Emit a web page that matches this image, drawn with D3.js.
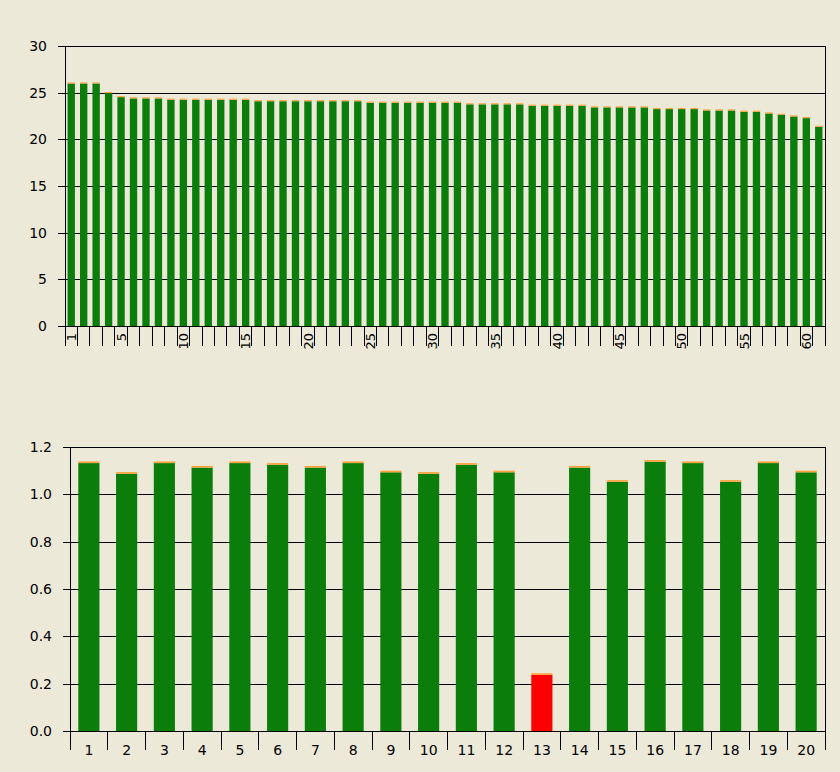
<!DOCTYPE html>
<html>
<head>
<meta charset="utf-8">
<script src="https://cdn.jsdelivr.net/npm/d3@7"></script>
<style>
  html, body { margin: 0; padding: 0; background: #ece9d8; }
  svg { display: block; }
  .axis text { font-family: "DejaVu Sans", sans-serif; font-size: 14px; fill: #000; }
  .axis-x.rotated text { font-size: 13px; }
  .axis line, .axis path, .frame { stroke: #000; shape-rendering: crispEdges; }
</style>
</head>
<body>
<div id="chart"></div>
<script>
// upper chart: 61 items, green part + thin orange cap
const topCategories = d3.range(1, 62);
const topGreen = [
  25.98, 25.98, 25.98, 24.95, 24.52, 24.38, 24.38, 24.38, 24.24, 24.24,
  24.24, 24.24, 24.24, 24.24, 24.24, 24.08, 24.08, 24.08, 24.08, 24.08,
  24.08, 24.08, 24.08, 24.08, 23.92, 23.92, 23.92, 23.92, 23.92, 23.92,
  23.92, 23.92, 23.75, 23.75, 23.75, 23.75, 23.75, 23.60, 23.60, 23.60,
  23.60, 23.60, 23.42, 23.42, 23.42, 23.42, 23.42, 23.24, 23.24, 23.24,
  23.24, 23.09, 23.09, 23.09, 22.95, 22.95, 22.77, 22.63, 22.45, 22.27,
  21.34
];
const topCap = [
  0.12, 0.12, 0.12, 0.12, 0.12, 0.12, 0.12, 0.12, 0.12, 0.12,
  0.12, 0.12, 0.12, 0.12, 0.12, 0.12, 0.12, 0.12, 0.12, 0.12,
  0.12, 0.12, 0.12, 0.12, 0.12, 0.12, 0.12, 0.12, 0.12, 0.12,
  0.12, 0.12, 0.12, 0.12, 0.12, 0.12, 0.12, 0.12, 0.12, 0.12,
  0.12, 0.12, 0.12, 0.12, 0.12, 0.12, 0.12, 0.12, 0.12, 0.12,
  0.12, 0.12, 0.12, 0.12, 0.12, 0.12, 0.12, 0.12, 0.12, 0.12,
  0.12
];
const topTickLabels = [1, 5, 10, 15, 20, 25, 30, 35, 40, 45, 50, 55, 60];
const topYTicks = [0, 5, 10, 15, 20, 25, 30];

// lower chart: 20 items, item 13 is flagged
const bottomCategories = d3.range(1, 21);
const bottomGreen = [
  1.132, 1.087, 1.132, 1.113, 1.132, 1.125, 1.113, 1.132, 1.093, 1.087,
  1.125, 1.093, 0.237, 1.113, 1.053, 1.138, 1.132, 1.053, 1.132, 1.093
];
const bottomCap = [
  0.007, 0.007, 0.007, 0.007, 0.007, 0.007, 0.007, 0.007, 0.007, 0.007,
  0.007, 0.007, 0.007, 0.007, 0.007, 0.007, 0.007, 0.007, 0.007, 0.007
];
const bottomFlagged = [13];
const bottomYTicks = [0, 0.2, 0.4, 0.6, 0.8, 1.0, 1.2];

const colors = { ok: '#0a7d0a', bad: '#ff0000', cap: '#ffa23c' };

class CapBarChart {
  constructor (svg, opts) {
    this.svg = svg;
    this.o = opts;
  }

  draw () {
    this._prepareScales();
    this._createLayer();
    this._drawGrid();
    this._drawBars();
    this._drawYaxis();
    this._drawXaxis();
    this._drawFrame();
    return this;
  }

  _prepareScales () {
    const o = this.o;
    this.w = o.right - o.left;
    this.h = o.bottom - o.top;
    this.x = d3.scaleBand()
      .domain(o.categories)
      .range([0, this.w])
      .paddingInner(o.pad)
      .paddingOuter(o.pad / 2);
    this.y = d3.scaleLinear().domain(o.yDomain).range([this.h, 0]);
  }

  _createLayer () {
    this.g = this.svg.append('g')
      .attr('transform', `translate(${this.o.left}, ${this.o.top})`);
  }

  _drawGrid () {
    this.g.append('g')
      .attr('class', 'axis grid')
      .call(d3.axisLeft(this.y).tickValues(this.o.yTicks).tickSize(-this.w).tickFormat(''))
      .call(g => g.select('.domain').remove());
  }

  _drawBars () {
    const o = this.o;
    const rows = o.categories.map((c, i) => ({ c, green: o.green[i], cap: o.cap[i] }));
    const stacked = d3.stack().keys(['green', 'cap'])(rows);

    this.g.append('g')
      .selectAll('g')
      .data(stacked)
      .join('g')
      .selectAll('rect')
      .data(s => s.map(d => ({ key: s.key, c: d.data.c, y0: d[0], y1: d[1] })))
      .join('rect')
      .attr('x', d => this.x(d.c))
      .attr('width', this.x.bandwidth())
      .attr('y', d => this.y(d.y1))
      .attr('height', d => this.y(d.y0) - this.y(d.y1))
      .attr('fill', d => d.key === 'cap' ? colors.cap
        : (o.flagged.includes(d.c) ? colors.bad : colors.ok));
  }

  _drawYaxis () {
    this.g.append('g')
      .attr('class', 'axis axis-y')
      .call(d3.axisLeft(this.y)
        .tickValues(this.o.yTicks)
        .tickSize(7)
        .tickPadding(11)
        .tickFormat(this.o.yFormat))
      .call(g => g.select('.domain').remove());
  }

  _drawXaxis () {
    const o = this.o;
    const step = this.x.step();
    const axis = this.g.append('g')
      .attr('class', o.rotate ? 'axis axis-x rotated' : 'axis axis-x')
      .attr('transform', `translate(0, ${this.h})`)
      .call(d3.axisBottom(this.x)
        .tickSize(o.xTickLen)
        .tickSizeOuter(0)
        .tickPadding(o.xPad)
        .tickFormat(d => o.xLabels.includes(d) ? d : ''));

    // tick marks sit on the borders between categories
    axis.selectAll('.tick line')
      .attr('x1', -step / 2)
      .attr('x2', -step / 2);

    if (o.rotate) {
      axis.selectAll('.tick text')
        .attr('transform', 'rotate(-90)')
        .attr('text-anchor', 'end')
        .attr('x', -7)
        .attr('y', 0)
        .attr('dy', '0.36em');
    }
  }

  _drawFrame () {
    const ext = this.o.xTickLen;
    this.g.append('line')
      .attr('class', 'frame')
      .attr('x1', 0.5).attr('x2', 0.5)
      .attr('y1', 0).attr('y2', this.h + ext);
    this.g.append('line')
      .attr('class', 'frame')
      .attr('x1', this.w + 0.5).attr('x2', this.w + 0.5)
      .attr('y1', 0).attr('y2', this.h + ext);
  }
}

const svg = d3.select('#chart').append('svg')
  .attr('width', 840)
  .attr('height', 772);

new CapBarChart(svg, {
  left: 65, right: 825, top: 46, bottom: 326,
  categories: topCategories,
  green: topGreen,
  cap: topCap,
  flagged: [],
  pad: 0.41,
  yDomain: [0, 30],
  yTicks: topYTicks,
  yFormat: d3.format('d'),
  xLabels: topTickLabels,
  xTickLen: 20,
  xPad: 3,
  rotate: true
}).draw();

new CapBarChart(svg, {
  left: 70, right: 825, top: 447, bottom: 731,
  categories: bottomCategories,
  green: bottomGreen,
  cap: bottomCap,
  flagged: bottomFlagged,
  pad: 0.44,
  yDomain: [0, 1.2],
  yTicks: bottomYTicks,
  yFormat: d3.format('.1f'),
  xLabels: bottomCategories,
  xTickLen: 19,
  xPad: -5,
  rotate: false
}).draw();
</script>
</body>
</html>
